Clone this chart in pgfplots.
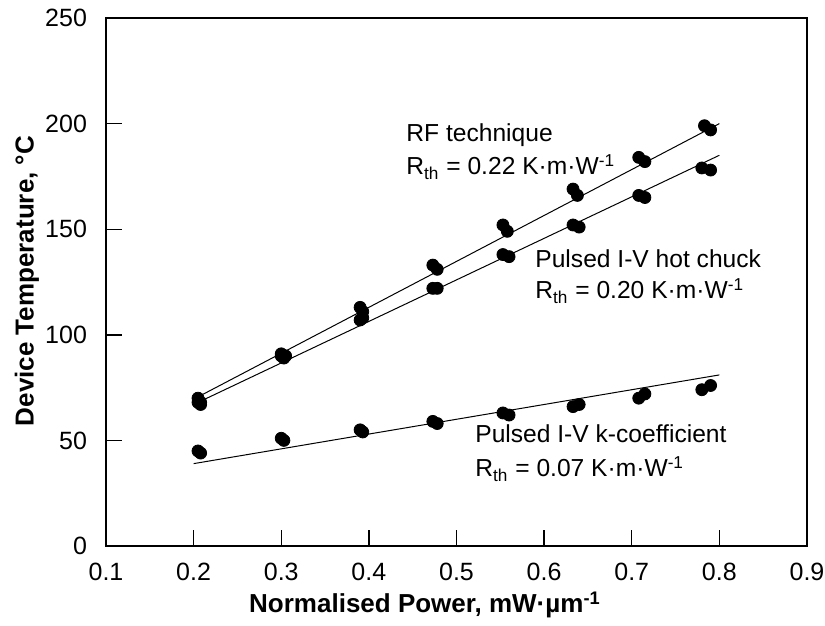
\documentclass[border=0pt]{standalone}
\usepackage{pgfplots}
\pgfplotsset{compat=1.18}
\usepackage{fontspec}
\setmainfont{Liberation Sans}
\begin{document}
\begin{tikzpicture}
\begin{axis}[
  scale only axis, width=350.5bp, height=264bp,
  xmin=0.1, xmax=0.9, ymin=0, ymax=250,
  xtick={0.1,0.2,0.3,0.4,0.5,0.6,0.7,0.8,0.9},
  xticklabels={0.1,0.2,0.3,0.4,0.5,0.6,0.7,0.8,0.9},
  ytick={0,50,100,150,200,250},
  yticklabels={0,50,100,150,200,250},
  tick pos=left, tick align=inside, major tick length=8bp,
  axis line style={line width=0.9bp},
  every tick/.style={black, line width=0.7bp},
  ticklabel style={font=\fontsize{12.5bp}{14bp}\selectfont},
  xticklabel style={yshift=-5bp},
  yticklabel style={xshift=-6bp},
  label style={font=\bfseries\fontsize{13bp}{15bp}\selectfont},
  xlabel={Normalised Power, mW·µm\textsuperscript{-1}},
  ylabel={Device Temperature, °C},
  xlabel style={at={(axis description cs:0.455,-0.1117)}, anchor=center},
  ylabel style={at={(axis description cs:-0.1127,0.502)}, anchor=center},
  clip=false,
]
% fit lines
\addplot[black, line width=0.5bp, no marks] coordinates {(0.2,69.5) (0.8,200)};
\addplot[black, line width=0.5bp, no marks] coordinates {(0.2,67) (0.8,185)};
\addplot[black, line width=0.5bp, no marks] coordinates {(0.2,39) (0.8,81)};
% RF technique
\addplot[only marks, mark=*, mark size=3bp, black] coordinates {
(0.205,70) (0.208,68) (0.300,91) (0.305,90) (0.390,113) (0.393,111)
(0.473,133) (0.478,131) (0.553,152) (0.558,149) (0.633,169) (0.638,166)
(0.708,184) (0.715,182) (0.783,199) (0.790,197)};
% Pulsed I-V hot chuck
\addplot[only marks, mark=*, mark size=3bp, black] coordinates {
(0.205,68) (0.208,67) (0.300,90) (0.303,89) (0.390,107) (0.393,108)
(0.473,122) (0.478,122) (0.553,138) (0.560,137) (0.633,152) (0.640,151)
(0.708,166) (0.715,165) (0.780,179) (0.790,178)};
% Pulsed I-V k-coefficient
\addplot[only marks, mark=*, mark size=3bp, black] coordinates {
(0.205,45) (0.208,44) (0.300,51) (0.303,50) (0.390,55) (0.393,54)
(0.473,59) (0.478,58) (0.553,63) (0.560,62) (0.633,66) (0.640,67)
(0.708,70) (0.715,72) (0.780,74) (0.790,76)};
\node[anchor=base west, inner sep=0pt, font=\fontsize{12.3bp}{14bp}\selectfont] at (axis cs:0.4424,191.3) {RF technique};
\node[anchor=base west, inner sep=0pt, font=\fontsize{12.3bp}{14bp}\selectfont] at (axis cs:0.4424,175.7) {R\textsubscript{th} = 0.22 K·m·W\textsuperscript{-1}};
\node[anchor=base west, inner sep=0pt, font=\fontsize{12.3bp}{14bp}\selectfont] at (axis cs:0.5896,132.1) {Pulsed I-V hot chuck};
\node[anchor=base west, inner sep=0pt, font=\fontsize{12.3bp}{14bp}\selectfont] at (axis cs:0.5896,117) {R\textsubscript{th} = 0.20 K·m·W\textsuperscript{-1}};
\node[anchor=base west, inner sep=0pt, font=\fontsize{12.3bp}{14bp}\selectfont] at (axis cs:0.5211,48.8) {Pulsed I-V k-coefficient};
\node[anchor=base west, inner sep=0pt, font=\fontsize{12.3bp}{14bp}\selectfont] at (axis cs:0.5211,32.7) {R\textsubscript{th} = 0.07 K·m·W\textsuperscript{-1}};
\end{axis}
\pgfresetboundingbox
\path (-53bp,-40bp) rectangle (359.5bp,273bp);
\end{tikzpicture}
\end{document}
